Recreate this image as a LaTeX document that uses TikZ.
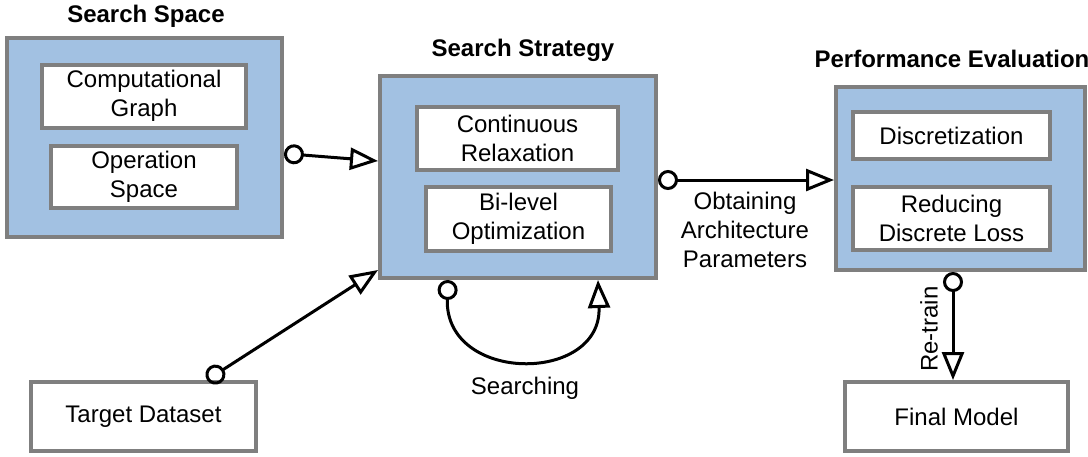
\documentclass[tikz,border=0pt]{standalone}
\usepackage{fontspec}
\setmainfont{Liberation Sans}
\usetikzlibrary{arrows.meta,calc}
\definecolor{ink}{HTML}{000000}
\definecolor{frame}{HTML}{7F7F7F}
\definecolor{stagefill}{HTML}{A2C1E2}
\newcommand{\twelve}{\fontsize{12}{14.5}\selectfont}
\tikzset{
 every node/.append style={font=\twelve,text=ink,align=center},
 stage/.style={draw=frame,fill=stagefill,line width=2pt,inner sep=0pt},
 part/.style={draw=frame,fill=white,line width=2pt,inner sep=2pt},
 title/.style={font=\twelve\bfseries,inner sep=1pt},
 word/.style={inner sep=1pt},
 flow/.style={{Circle[open,length=10pt,width=10pt,line width=1.5pt]}-{Triangle[open,length=14pt,width=11pt,line width=1.5pt]},draw=ink,line width=1.5pt},
}

\begin{document}
\begin{tikzpicture}[x=0.5pt,y=-0.5pt]

\useasboundingbox (0,0) rectangle (1088,456);
% search space
\node[stage,minimum width=137.5pt,minimum height=99.5pt] (space) at (144.5,137.5) {};
\node[title] (spacet) at (146,16) {Search Space};
\node[part,minimum width=102pt,minimum height=31.5pt] (graph) at (144,96) {Computational\\Graph};
\node[part,minimum width=93pt,minimum height=31pt] (ops) at (144,177) {Operation\\Space};
% search strategy
\node[stage,minimum width=138pt,minimum height=101pt] (strategy) at (518,177) {};
\node[title] (strategyt) at (523,50) {Search Strategy};
\node[part,minimum width=100.5pt,minimum height=31.5pt] (relax) at (517.5,138) {Continuous\\Relaxation};
\node[part,minimum width=92.5pt,minimum height=32pt] (bilevel) at (518.5,218.5) {Bi-level\\Optimization};
% performance evaluation
\node[stage,minimum width=124.5pt,minimum height=91.5pt] (perf) at (960.5,178.5) {};
\node[title] (perft) at (952,59) {Performance Evaluation};
\node[part,minimum width=98.5pt,minimum height=23.5pt] (disc) at (951.5,135.5) {Discretization};
\node[part,minimum width=98.5pt,minimum height=31.5pt] (loss) at (951.5,218) {Reducing\\Discrete Loss};
% data and result
\node[part,minimum width=112.5pt,minimum height=34.5pt] (data) at (143.5,416.5) {Target Dataset};
\node[part,minimum width=111.5pt,minimum height=34.5pt] (final) at (956.5,416.5) {Final Model};

\draw[flow] ([yshift=-8pt]space.east) -- ([yshift=8pt]strategy.west);
\draw[flow] ([xshift=31.75pt]data.north) -- ([yshift=5pt]strategy.south west);
\draw[flow] ([yshift=-1.5pt]strategy.east) -- ([yshift=-1.5pt]strategy.east -| perf.west);
\node[word] (obtain) at (745,230) {Obtaining\\Architecture\\Parameters};
\draw[flow] ([xshift=-35pt]strategy.south) .. controls +(-4,104) and +(4,104) .. ([xshift=40pt]strategy.south);
\node[word] (search) at (525,388) {Searching};
\draw[flow] ([xshift=-3.75pt]perf.south) -- ([xshift=-3.75pt]perf.south |- final.north);
\node[word,rotate=90] (retrain) at (929,329) {Re-train};

\end{tikzpicture}
\end{document}
